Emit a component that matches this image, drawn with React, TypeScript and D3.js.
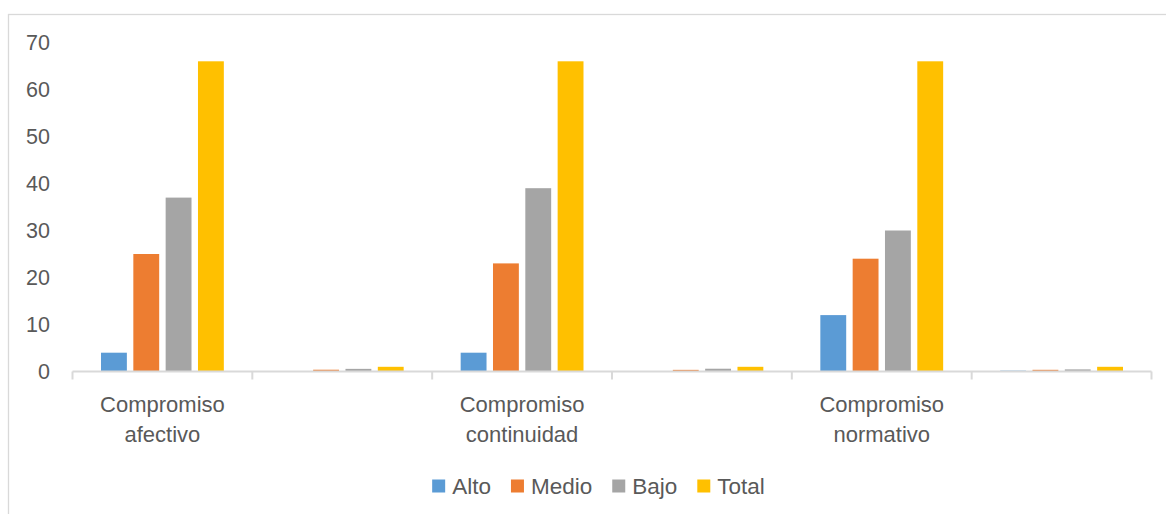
import React, { useEffect, useRef } from "react";
import * as d3 from "d3";

const categoryLabels = ["Compromiso afectivo", "", "Compromiso continuidad", "", "Compromiso normativo", ""];
const seriesNames = ["Alto", "Medio", "Bajo", "Total"];
const alto = [4, 0.06, 4, 0.06, 12, 0.18];
const medio = [25, 0.38, 23, 0.35, 24, 0.36];
const bajo = [37, 0.56, 39, 0.59, 30, 0.45];
const total = [66, 1, 66, 1, 66, 1];
const seriesValues = [alto, medio, bajo, total];
const seriesColors = ["#5B9BD5", "#ED7D31", "#A5A5A5", "#FFC000"];
const yTicks = [0, 10, 20, 30, 40, 50, 60, 70];

const W = 1166;
const H = 514;
const FONT = "'Liberation Sans', Arial, sans-serif";
const TEXT = "#595959";
const LINE = "#D9D9D9";

export default function App() {
  const ref = useRef<SVGSVGElement>(null);

  useEffect(() => {
    const svg = d3.select(ref.current);
    svg.selectAll("*").remove();

    // frame
    svg.append("rect")
      .attr("x", 8.5).attr("y", 14.5)
      .attr("width", 1180).attr("height", 540)
      .attr("fill", "#fff").attr("stroke", LINE).attr("stroke-width", 1.3);

    const x = d3.scaleBand<number>()
      .domain(d3.range(categoryLabels.length))
      .range([72.5, 1151.5])
      .padding(0);
    const y = d3.scaleLinear().domain([0, 70]).range([371.5, 42.5]);
    const inner = d3.scaleBand<number>()
      .domain(d3.range(seriesNames.length))
      .range([0, x.bandwidth() * 0.683])
      .paddingInner(0.2);
    const groupOffset = (x.bandwidth() - x.bandwidth() * 0.683) / 2;

    // y labels
    svg.append("g").selectAll("text").data(yTicks).join("text")
      .attr("x", 50).attr("y", (d) => y(d))
      .attr("dy", "0.36em")
      .attr("text-anchor", "end")
      .attr("font-family", FONT).attr("font-size", 21.5)
      .attr("fill", TEXT)
      .text((d) => String(d));

    // bars
    seriesValues.forEach((vals, si) => {
      svg.append("g").selectAll("rect").data(vals).join("rect")
        .attr("x", (_d, i) => (x(i) as number) + groupOffset + (inner(si) as number))
        .attr("width", inner.bandwidth())
        .attr("y", (d) => y(d))
        .attr("height", (d) => y(0) - y(d))
        .attr("fill", seriesColors[si]);
    });

    // x axis line & ticks
    svg.append("line")
      .attr("x1", 72.5).attr("x2", 1151.5)
      .attr("y1", y(0)).attr("y2", y(0))
      .attr("stroke", LINE).attr("stroke-width", 2);
    const tickPos = d3.range(categoryLabels.length + 1).map((i) =>
      i < categoryLabels.length ? (x(i) as number) : 1151.5
    );
    svg.append("g").selectAll("line").data(tickPos).join("line")
      .attr("x1", (d) => d).attr("x2", (d) => d)
      .attr("y1", y(0)).attr("y2", y(0) + 8)
      .attr("stroke", LINE).attr("stroke-width", 2);

    // category labels
    const lab = svg.append("g");
    categoryLabels.forEach((label, i) => {
      if (!label) return;
      const cx = (x(i) as number) + x.bandwidth() / 2;
      const words = label.split(" ");
      words.forEach((w, li) => {
        lab.append("text")
          .attr("x", cx).attr("y", 404.5 + li * 30)
          .attr("dy", "0.36em")
          .attr("text-anchor", "middle")
          .attr("font-family", FONT).attr("font-size", 22)
          .attr("fill", TEXT)
          .text(w);
      });
    });

    // legend
    const lg = svg.append("g");
    const items: { g: any; w: number }[] = [];
    seriesNames.forEach((name, i) => {
      const g = lg.append("g");
      g.append("rect").attr("x", 0).attr("y", -6.5).attr("width", 13).attr("height", 13)
        .attr("fill", seriesColors[i]);
      const t = g.append("text").attr("x", 20).attr("y", 0).attr("dy", "0.36em")
        .attr("font-family", FONT).attr("font-size", 22.5).attr("fill", TEXT).text(name);
      const tw = (t.node() as SVGTextElement).getComputedTextLength();
      items.push({ g, w: 20 + tw });
    });
    const gap = 20;
    const totalW = d3.sum(items, (d) => d.w) + gap * (items.length - 1);
    let cur = 598.5 - totalW / 2;
    items.forEach((it) => {
      it.g.attr("transform", `translate(${cur},486)`);
      cur += it.w + gap;
    });
  }, []);

  return (
    <svg
      ref={ref}
      width={W}
      height={H}
      style={{ position: "absolute", left: 0, top: 0, background: "#fff" }}
    />
  );
}
